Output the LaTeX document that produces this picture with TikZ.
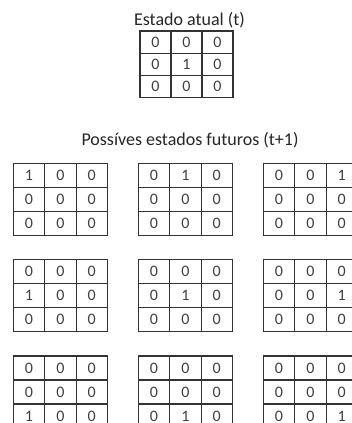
\documentclass[tikz,border=0pt]{standalone}
\usepackage{fontspec}
\setmainfont{Carlito}
\newcommand\cagrid[6]{% name, x0, y0, cw, rh, position of the 1
  \foreach \r in {1,2,3}{\foreach \c in {1,2,3}{%
    \pgfmathtruncatemacro\k{(\r-1)*3+\c}%
    \node[cell, minimum width=#4pt, minimum height=#5pt] (#1-\r\c) at ({#2+(\c-0.5)*#4},{#3+(\r-0.5)*#5}) {\ifnum\k=#6 1\else 0\fi};
  }}%
}
\begin{document}
\begin{tikzpicture}[x=1pt,y=-1pt,
  cell/.style={draw=black!80, line width=1.1pt, inner sep=0pt, outer sep=0pt,
    font=\fontsize{16}{16}\selectfont, text=black!75},
  title/.style={font=\fontsize{18}{18}\selectfont, text=black!85, anchor=base, inner sep=0pt}]
\useasboundingbox[fill=white] (0,0) rectangle (351,423);
\node[title] (t1) at (189.5,25) {Estado atual (t)};
\cagrid{now}{140}{31}{31}{22.3}{5}
\node[title] (t2) at (190,145) {Possíves estados futuros (t+1)};
\cagrid{f1}{13.3}{163.3}{31.4}{24}{1}
\cagrid{f2}{138.3}{163.3}{31.4}{24}{2}
\cagrid{f3}{263.3}{163.3}{31.4}{24}{3}
\cagrid{f4}{13.3}{259.5}{31.4}{24}{4}
\cagrid{f5}{138.3}{259.5}{31.4}{24}{5}
\cagrid{f6}{263.3}{259.5}{31.4}{24}{6}
\cagrid{f7}{13.3}{356}{31.4}{24}{7}
\cagrid{f8}{138.3}{356}{31.4}{24}{8}
\cagrid{f9}{263.3}{356}{31.4}{24}{9}
\end{tikzpicture}
\end{document}
